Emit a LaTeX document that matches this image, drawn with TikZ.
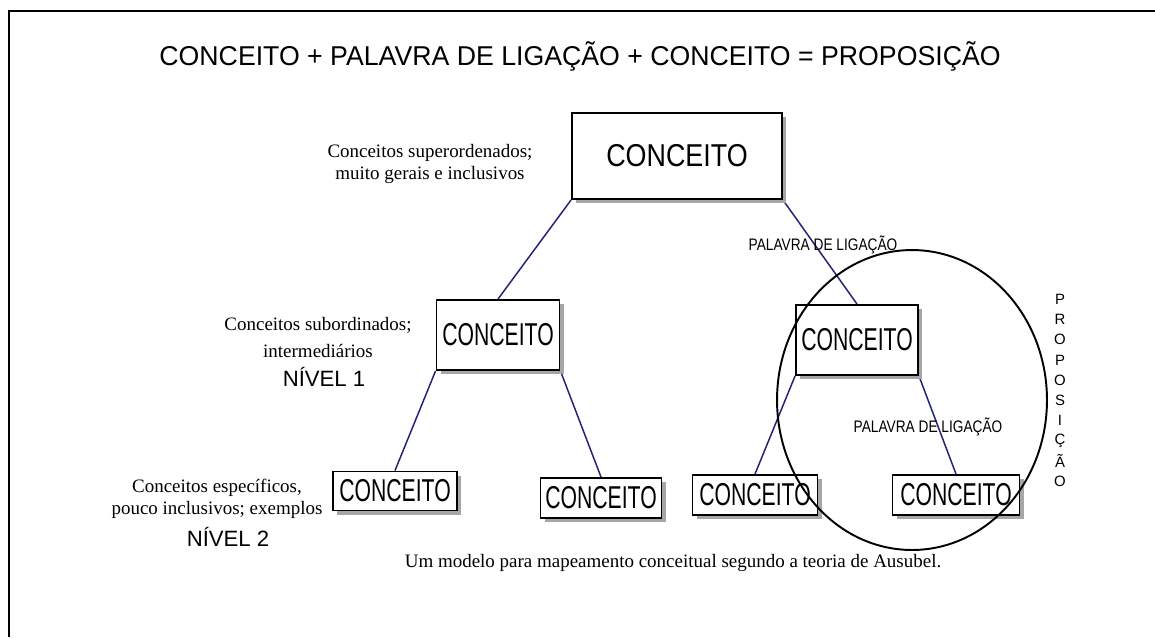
\documentclass[tikz,border=0pt]{standalone}
\usepackage{fontspec}
\setmainfont{Liberation Serif}
\newfontfamily\arialfont{Liberation Sans}
\usetikzlibrary{shadows,backgrounds}

\definecolor{NavyLine}{RGB}{35,35,120}
\newcommand{\conc}[1]{\scalebox{#1}[1]{CONCEITO}}
\newcommand{\palavra}{\scalebox{0.82}[1]{PALAVRA DE LIGAÇÃO}}

\begin{document}
\begin{tikzpicture}[x=0.02cm,y=-0.02cm,
    conceito/.style={draw, fill=white, line width=1.1pt, inner sep=0pt,
      font=\arialfont\fontsize{18}{18}\selectfont,
      drop shadow={shadow xshift=2.5pt, shadow yshift=-2.5pt, fill=gray!70, opacity=1}},
    ligacao/.style={draw=NavyLine, line width=0.85pt},
    nivel/.style={anchor=base, inner sep=0pt, font=\fontsize{10.8}{12.5}\selectfont},
    nivelsans/.style={anchor=base, inner sep=0pt, font=\arialfont\fontsize{12.6}{12.6}\selectfont},
    rotulo/.style={anchor=base, inner sep=0pt, font=\arialfont\fontsize{9.5}{9.5}\selectfont}]
  \useasboundingbox (0,0) rectangle (1155,637);

  % Frame
  \draw[line width=1.4pt] (9,637) -- (9,11) -- (1155,11);

  % Title
  \node[anchor=base, inner sep=0pt, font=\arialfont\fontsize{15.5}{15.5}\selectfont] (titulo) at (580,65)
    {\scalebox{0.98}[1]{CONCEITO + PALAVRA DE LIGAÇÃO + CONCEITO = PROPOSIÇÃO}};

  % Concept boxes
  \node[conceito, minimum width=4.2cm, minimum height=1.72cm] (c0) at (677,156) {\conc{0.85}};
  \node[conceito, minimum width=2.46cm, minimum height=1.4cm] (c1) at (498,335) {\conc{0.67}};
  \node[conceito, minimum width=2.44cm, minimum height=1.4cm] (c2) at (857,340) {\conc{0.67}};
  \node[conceito, minimum width=2.48cm, minimum height=0.78cm] (c11) at (395,491) {\conc{0.67}};
  \node[conceito, minimum width=2.42cm, minimum height=0.8cm] (c12) at (601,498) {\conc{0.67}};
  \node[conceito, minimum width=2.5cm, minimum height=0.8cm] (c21) at (755,495) {\conc{0.67}};
  \node[conceito, minimum width=2.54cm, minimum height=0.8cm] (c22) at (956,495) {\conc{0.67}};

  % Links
  \begin{scope}[on background layer]
    \draw[ligacao] (c0.south west) -- (c1.north);
    \draw[ligacao] (c0.south east) -- (c2.north);
    \draw[ligacao] (c1.south west) -- (c11.north);
    \draw[ligacao] (c1.south east) -- (c12.north);
    \draw[ligacao] (c2.south west) -- (c21.north);
    \draw[ligacao] (c2.south east) -- (c22.north);
  \end{scope}

  % Linking words
  \node[rotulo] (lig1) at (823,250) {\palavra};
  \node[rotulo] (lig2) at (928,432) {\palavra};

  % Level descriptions
  \node[nivel] (sup1) at (430,157) {Conceitos superordenados;};
  \node[nivel] (sup2) at (430,179) {muito gerais e inclusivos};
  \node[nivel] (sub1) at (318,330) {Conceitos subordinados;};
  \node[nivel] (sub2) at (318,357) {intermediários};
  \node[nivelsans] (niv1) at (324,386) {NÍVEL 1};
  \node[nivel] (esp1) at (217,492) {Conceitos específicos,};
  \node[nivel] (esp2) at (217,514) {pouco inclusivos; exemplos};
  \node[nivelsans] (niv2) at (228,546) {NÍVEL 2};

  % Caption
  \node[nivel] (legenda) at (673,567) {Um modelo para mapeamento conceitual segundo a teoria de Ausubel.};

  % Proposition circle and vertical word
  \draw[line width=1.1pt] (912,400) ellipse [x radius=2.7cm, y radius=3cm];
  \foreach \ch [count=\i from 0] in {P,R,O,P,O,S,I,Ç,Ã,O}
    \node[inner sep=0pt, font=\arialfont\fontsize{8.5}{8.5}\selectfont] (p\i) at (1060,{299+20.3*\i}) {\ch};
\end{tikzpicture}
\end{document}
